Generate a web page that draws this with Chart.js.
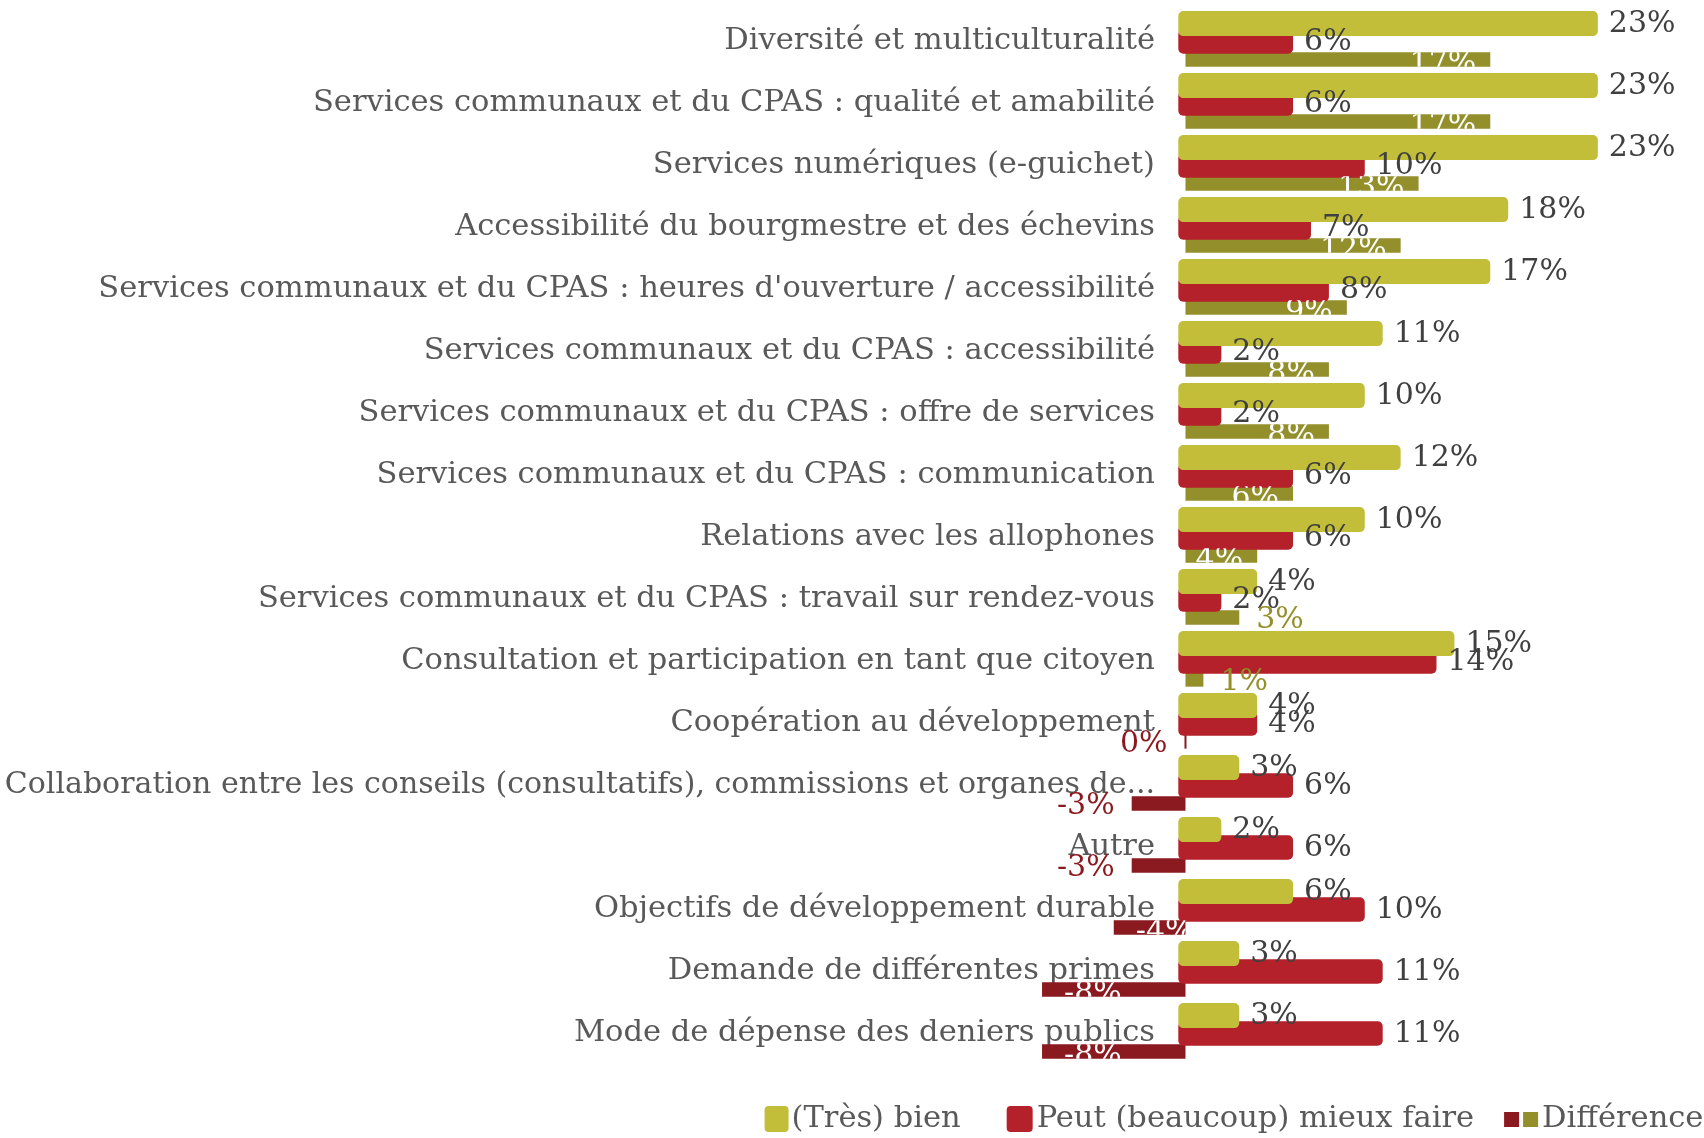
<!DOCTYPE html>
<html lang="fr">
<head>
<meta charset="UTF-8">
<title>Services communaux</title>
<script src="https://cdn.jsdelivr.net/npm/chart.js@4.4.1/dist/chart.umd.min.js"></script>
<style>
  body { margin: 0; background: #ffffff; }
  #wrap { width: 1704px; height: 1138px; position: relative; }
</style>
</head>
<body>
<div id="wrap"><canvas id="barChart"></canvas></div>
<script>
// categories, top to bottom
const categories = [
  "Diversité et multiculturalité",
  "Services communaux et du CPAS : qualité et amabilité",
  "Services numériques (e-guichet)",
  "Accessibilité du bourgmestre et des échevins",
  "Services communaux et du CPAS : heures d'ouverture / accessibilité",
  "Services communaux et du CPAS : accessibilité",
  "Services communaux et du CPAS : offre de services",
  "Services communaux et du CPAS : communication",
  "Relations avec les allophones",
  "Services communaux et du CPAS : travail sur rendez-vous",
  "Consultation et participation en tant que citoyen",
  "Coopération au développement",
  "Collaboration entre les conseils (consultatifs), commissions et organes de...",
  "Autre",
  "Objectifs de développement durable",
  "Demande de différentes primes",
  "Mode de dépense des deniers publics"
];
const tresBien   = [23, 23, 23, 18, 17, 11, 10, 12, 10, 4, 15, 4, 3, 2, 6, 3, 3];
const mieuxFaire = [6, 6, 10, 7, 8, 2, 2, 6, 6, 2, 14, 4, 6, 6, 10, 11, 11];
const difference = [17, 17, 13, 12, 9, 8, 8, 6, 4, 3, 1, 0, -3, -3, -4, -8, -8];

const seriesNames = ["(Très) bien", "Peut (beaucoup) mieux faire", "Différence"];

const YELLOW = "#c2be39";
const RED = "#b5212a";
const OLIVE = "#938f2b";
const DARKRED = "#8a1a1f";
const FONT = '"DejaVu Serif", "Liberation Serif", serif';

// labels at the end of each bar
const valueLabels = {
  id: 'valueLabels',
  afterDatasetsDraw(chart) {
    const ctx = chart.ctx;
    ctx.save();
    ctx.font = '30px ' + FONT;
    ctx.textBaseline = 'middle';
    chart.data.datasets.forEach((ds, di) => {
      const meta = chart.getDatasetMeta(di);
      meta.data.forEach((bar, i) => {
        const v = ds.data[i];
        const txt = v + '%';
        const w = ctx.measureText(txt).width;
        if (di < 2) {
          ctx.fillStyle = '#404040';
          ctx.textAlign = 'left';
          ctx.fillText(txt, bar.x + 11, bar.y + 1);
          return;
        }
        const len = Math.abs(bar.x - bar.base);
        if (len > w + 10) {
          // inside the end, white, cut to the bar
          ctx.save();
          ctx.beginPath();
          ctx.rect(Math.min(bar.x, bar.base), bar.y - bar.height / 2, len, bar.height);
          ctx.clip();
          ctx.fillStyle = '#ffffff';
          if (v > 0) {
            ctx.textAlign = 'right';
            ctx.fillText(txt, bar.x - 14, bar.y + 5);
          } else {
            ctx.textAlign = 'left';
            ctx.fillText(txt, bar.x + 22, bar.y + 5);
          }
          ctx.restore();
        } else {
          ctx.fillStyle = v > 0 ? OLIVE : DARKRED;
          if (v > 0) {
            ctx.textAlign = 'left';
            ctx.fillText(txt, bar.x + 17, bar.y + 3);
          } else {
            ctx.textAlign = 'right';
            ctx.fillText(txt, Math.min(bar.x, bar.base) - 17, bar.y + 3);
          }
        }
      });
    });
    ctx.restore();
  }
};

function roundRect(ctx, x, y, w, h, r) {
  ctx.beginPath();
  ctx.moveTo(x + r, y);
  ctx.arcTo(x + w, y, x + w, y + h, r);
  ctx.arcTo(x + w, y + h, x, y + h, r);
  ctx.arcTo(x, y + h, x, y, r);
  ctx.arcTo(x, y, x + w, y, r);
  ctx.closePath();
  ctx.fill();
}

// legend at the bottom
const bottomLegend = {
  id: 'bottomLegend',
  afterDraw(chart) {
    const ctx = chart.ctx;
    ctx.save();
    ctx.font = '30.5px ' + FONT;
    ctx.textBaseline = 'middle';
    ctx.textAlign = 'left';
    const y = 1119;
    const gaps = [46, 30];
    const widths = seriesNames.map(s => ctx.measureText(s).width);
    const sw = [27, 30, 38];
    let total = gaps[0] + gaps[1];
    widths.forEach((w, i) => total += sw[i] + w);
    let x = 1234 - total / 2;
    // item 1
    ctx.fillStyle = YELLOW;
    roundRect(ctx, x, y - 13, 24, 26, 4);
    ctx.fillStyle = '#595959';
    ctx.fillText(seriesNames[0], x + sw[0], y);
    x += sw[0] + widths[0] + gaps[0];
    // item 2
    ctx.fillStyle = RED;
    roundRect(ctx, x, y - 13, 26, 26, 4);
    ctx.fillStyle = '#595959';
    ctx.fillText(seriesNames[1], x + sw[1], y);
    x += sw[1] + widths[1] + gaps[1];
    // item 3
    ctx.fillStyle = DARKRED;
    ctx.fillRect(x, y - 7, 15, 15);
    ctx.fillStyle = OLIVE;
    ctx.fillRect(x + 19, y - 7, 15, 15);
    ctx.fillStyle = '#595959';
    ctx.fillText(seriesNames[2], x + sw[2], y);
    ctx.restore();
  }
};

const chart = new Chart(document.getElementById('barChart'), {
  type: 'bar',
  data: {
    labels: categories,
    datasets: [
      {
        label: seriesNames[0],
        data: tresBien,
        backgroundColor: YELLOW,
        base: -0.4,
        borderRadius: 5,
        borderSkipped: false,
        barPercentage: 1.4,
        clip: false
      },
      {
        label: seriesNames[1],
        data: mieuxFaire,
        backgroundColor: RED,
        base: -0.4,
        borderRadius: 5,
        borderSkipped: false,
        barPercentage: 1.36,
        clip: false
      },
      {
        label: seriesNames[2],
        data: difference,
        backgroundColor: difference.map(v => v <= 0 ? DARKRED : OLIVE),
        minBarLength: 2,
        barPercentage: 0.8,
        clip: false
      }
    ]
  },
  options: {
    indexAxis: 'y',
    responsive: true,
    maintainAspectRatio: false,
    animation: false,
    layout: { padding: { top: 10.5, bottom: 73.5, right: 16.5, left: 0 } },
    datasets: { bar: { categoryPercentage: 0.87 } },
    plugins: {
      legend: { display: false },
      tooltip: { enabled: false }
    },
    scales: {
      x: {
        display: false,
        min: -1.7,
        max: 28
      },
      y: {
        z: 1,
        grid: { display: false, drawTicks: false },
        border: { display: false },
        ticks: {
          color: '#595959',
          // the long truncated label is a bit smaller so it fits on the left
          font: (c) => ({ family: FONT, size: (categories[c.index] || '').length > 70 ? 30 : 30.5 }),
          padding: 0,
          autoSkip: false
        },
        afterFit(scale) {
          scale.width = 1155;
          scale.paddingTop = 0;
          scale.paddingBottom = 0;
        }
      }
    }
  },
  plugins: [valueLabels, bottomLegend]
});
</script>
</body>
</html>
